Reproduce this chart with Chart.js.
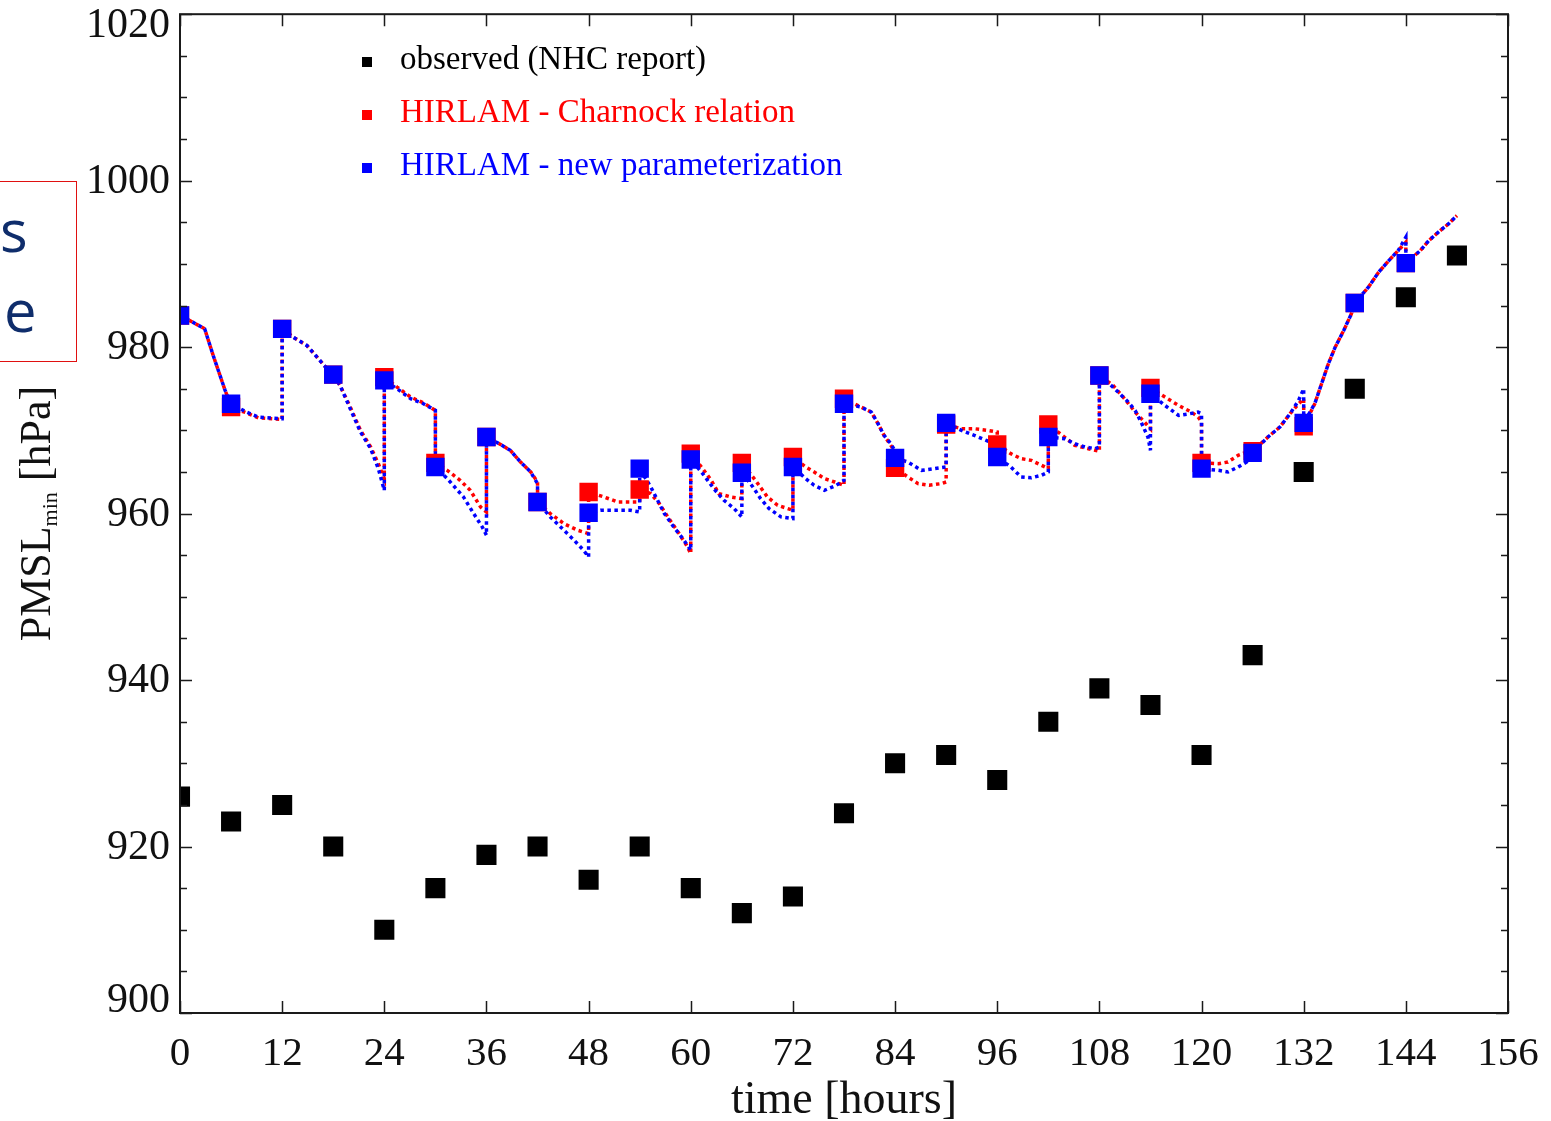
<!DOCTYPE html>
<html lang="en">
<head>
<meta charset="UTF-8">
<title>PMSL min - observed vs HIRLAM</title>
<script src="https://cdn.jsdelivr.net/npm/chart.js"></script>
<style>
  body { margin: 0; background: #fff; }
  #wrap { position: relative; width: 1551px; height: 1121px; overflow: hidden; }
  #note { position: absolute; left: -40px; top: 181px; width: 115px; height: 179px;
          border: 1px solid #e01010; font-family: 'Open Sans', sans-serif; font-size: 58px;
          color: #0f2d6b; line-height: 1; }
  #note span { position: absolute; }
</style>
</head>
<body>
<div id="wrap">
  <canvas id="pmslChart" width="1551" height="1121"></canvas>
  <div id="note"><span style="left:39px; top:19px;">s</span><span style="left:43px; top:99px;">e</span></div>
</div>

<script>
// time axis and tick labels
const hours = [0, 6, 12, 18, 24, 30, 36, 42, 48, 54, 60, 66, 72, 78, 84, 90, 96, 102, 108, 114, 120, 126, 132, 138, 144, 150];
const xTicks = [0, 12, 24, 36, 48, 60, 72, 84, 96, 108, 120, 132, 144, 156];
const yTicks = [900, 920, 940, 960, 980, 1000, 1020];
const yMinorStep = 5;

// observed minimum pressure (NHC report)
const observed = [926, 923, 925, 920, 910, 915, 919, 920, 916, 920, 915, 912, 914, 924, 930, 931, 928, 935, 939, 937, 931, 943, 965, 975, 986, 991];

// model analysis values (squares), 0..144 h
const charnockAnalysis = [983.8, 972.8, 982.2, 976.7, 976.4, 966.1, 969.2, 961.4, 962.6, 962.9, 967.2, 966.1, 966.8, 973.8, 965.5, 970.7, 968.3, 970.7, 976.6, 975.1, 966.1, 967.5, 970.5, 985.3, 990.1];
const newParamAnalysis = [983.8, 973.2, 982.2, 976.7, 976.0, 965.6, 969.2, 961.4, 960.1, 965.4, 966.5, 964.9, 965.6, 973.2, 966.7, 970.9, 966.8, 969.2, 976.6, 974.4, 965.4, 967.3, 970.9, 985.3, 990.1];

// 6-hour forecast tracks, [hour, hPa], each starting from its analysis
const charnockForecast = [
  [[0, 983.8], [1.5, 983.0], [2.9, 982.2], [3.9, 979.0], [4.7, 976.6], [5.3, 974.8], [6, 973.0]],
  [[6, 972.8], [7.8, 972.1], [9.2, 971.5], [12, 971.3]],
  [[12, 982.2], [13.3, 981.2], [14.9, 980.2], [16.1, 978.8], [17.1, 977.6], [18, 976.7]],
  [[18, 976.7], [18.8, 975.4], [20, 972.8], [21.2, 970.0], [22.4, 968.0], [23.3, 966.0], [24, 964.2]],
  [[24, 976.4], [25.5, 975.2], [27.1, 974.0], [28.6, 973.3], [30, 972.4]],
  [[30, 966.1], [31.4, 965.2], [32.9, 964.0], [34.1, 962.8], [35.3, 960.8], [36, 960.2]],
  [[36, 969.2], [37.5, 968.4], [38.8, 967.6], [40, 966.2], [41.2, 965.0], [42, 963.8]],
  [[42, 961.4], [43.5, 960.0], [45.1, 958.8], [46.7, 958.0], [48, 957.6]],
  [[48, 962.6], [49.8, 962.0], [51.4, 961.4], [52.9, 961.4], [54, 961.4]],
  [[54, 962.9], [55.3, 962.4], [56.3, 961.2], [57.3, 959.6], [58.5, 957.8], [59.5, 956.2], [60, 955.2]],
  [[60, 967.2], [61.4, 965.4], [62.4, 964.0], [63.3, 962.4], [64.7, 962.0], [66, 961.8]],
  [[66, 966.1], [67.6, 964.0], [69, 962.0], [70.2, 961.0], [72, 960.4]],
  [[72, 966.8], [73.5, 965.6], [74.5, 965.0], [75.7, 964.2], [76.9, 963.8], [78, 963.4]],
  [[78, 973.8], [80, 972.8], [81.2, 972.2], [82, 970.8], [82.7, 969.4], [83.5, 968.2], [84, 967.4]],
  [[84, 965.5], [85.5, 964.4], [86.7, 963.6], [88, 963.4], [89.4, 963.6], [90, 963.8]],
  [[90, 970.7], [91.8, 970.2], [93.3, 970.2], [94.9, 970.0], [96, 969.8]],
  [[96, 968.3], [97.6, 967.2], [98.8, 966.6], [100, 966.4], [101.2, 965.8], [102, 965.4]],
  [[102, 970.7], [103.9, 969.2], [105.1, 968.2], [106.7, 967.8], [108, 967.5]],
  [[108, 976.6], [109.6, 975.4], [110.8, 974.0], [112.2, 972.2], [113.3, 971.0], [114, 970.2]],
  [[114, 975.1], [115.7, 974.0], [117.3, 973.0], [118.8, 972.2], [119.6, 971.6], [120, 971.0]],
  [[120, 966.1], [122, 966.0], [123.1, 966.2], [124.3, 967.0], [125.3, 967.4], [126, 967.5]],
  [[126, 967.5], [127.8, 969.2], [129.2, 970.4], [130.4, 972.0], [131.4, 973.2], [132, 973.8]],
  [[132, 970.5], [133.3, 973.2], [134.1, 975.6], [134.9, 978.0], [135.7, 980.0], [136.7, 982.0], [137.6, 984.0], [138, 985.3]],
  [[138, 985.3], [139.6, 987.2], [140.8, 989.0], [142, 990.4], [143.1, 991.6], [144, 992.6]],
  [[144, 990.1], [145.7, 991.6], [146.7, 992.8], [147.8, 993.8], [149, 994.8], [150, 995.8]]
];
const newParamForecast = [
  [[0, 983.8], [1.5, 983.0], [2.9, 982.2], [3.9, 979.0], [4.7, 976.6], [5.3, 974.8], [6, 973.2]],
  [[6, 973.2], [7.8, 972.2], [9.2, 971.6], [12, 971.4]],
  [[12, 982.2], [13.3, 981.2], [14.9, 980.2], [16.1, 978.8], [17.1, 977.6], [18, 976.7]],
  [[18, 976.7], [18.8, 975.4], [20, 972.6], [21.2, 969.8], [22.4, 967.8], [23.3, 965.4], [24, 962.8]],
  [[24, 976.0], [25.5, 975.0], [27.1, 973.8], [28.6, 973.2], [30, 972.4]],
  [[30, 965.6], [31.4, 964.2], [33.3, 962.0], [34.5, 960.0], [35.5, 958.4], [36, 957.4]],
  [[36, 969.2], [37.5, 968.4], [38.8, 967.6], [40, 966.2], [41.2, 965.0], [42, 963.6]],
  [[42, 961.4], [43.5, 959.6], [45.1, 958.0], [46.3, 956.8], [47.4, 955.6], [48, 954.8]],
  [[48, 960.1], [49.4, 960.4], [51.4, 960.4], [52.9, 960.4], [54, 960.2]],
  [[54, 965.4], [55.3, 963.2], [56.1, 961.6], [56.9, 960.0], [58, 958.4], [59.2, 956.8], [60, 955.6]],
  [[60, 966.5], [61.4, 964.8], [62.7, 963.0], [63.9, 961.6], [65.1, 960.6], [66, 959.6]],
  [[66, 964.9], [67.3, 963.2], [68.2, 961.8], [69.2, 960.6], [70.6, 959.6], [72, 959.4]],
  [[72, 965.6], [73.5, 964.2], [74.5, 963.4], [75.7, 962.8], [77.1, 963.4], [78, 964.0]],
  [[78, 973.2], [80, 972.8], [81.2, 972.2], [82, 970.8], [82.7, 969.4], [83.5, 968.4], [84, 967.5]],
  [[84, 966.7], [85.5, 966.2], [87.1, 965.2], [88.6, 965.4], [90, 965.6]],
  [[90, 970.9], [91.8, 970.0], [93.3, 969.4], [94.7, 968.8], [96, 968.2]],
  [[96, 966.8], [97.6, 965.6], [98.8, 964.4], [100, 964.3], [101.2, 964.6], [102, 965.0]],
  [[102, 969.2], [103.9, 969.0], [105.1, 968.4], [106.3, 968.0], [107.5, 967.8], [108, 968.0]],
  [[108, 976.6], [109.6, 975.2], [110.6, 974.2], [111.4, 973.4], [112.2, 972.4], [112.9, 971.0], [113.7, 969.2], [114, 967.6]],
  [[114, 974.4], [115.7, 973.0], [117.3, 971.8], [118.6, 972.0], [119.6, 972.2], [120, 972.0]],
  [[120, 965.4], [122, 965.2], [123.1, 965.0], [124.3, 965.6], [125.3, 966.2], [126, 967.3]],
  [[126, 967.3], [127.8, 969.2], [129.2, 970.4], [130.4, 972.0], [131.4, 973.6], [132, 975.0]],
  [[132, 970.9], [133.3, 973.2], [134.1, 975.6], [134.9, 978.0], [135.7, 980.0], [136.7, 982.0], [137.6, 984.0], [138, 985.3]],
  [[138, 985.3], [139.6, 987.2], [140.8, 989.0], [142, 990.4], [143.1, 991.6], [144, 993.2]],
  [[144, 990.1], [145.7, 991.6], [146.7, 992.8], [147.8, 993.8], [149, 994.8], [150, 995.8]]
];

const legendItems = ['observed (NHC report)', 'HIRLAM - Charnock relation', 'HIRLAM - new parameterization'];
const legendColors = ['#000000', '#ff0000', '#0000ff'];

const serif = "'Liberation Serif', 'DejaVu Serif', serif";

function pairUp(xs, ys) {
    return ys.map((y, i) => ({ x: xs[i], y: y }));
}
function joinTracks(tracks) {
    return tracks.flat().map(p => ({ x: p[0], y: p[1] }));
}

// frame, inward ticks, y labels, titles and legend
const decor = {
    id: 'decor',
    afterDatasetsDraw(chart) {
        const { ctx, chartArea: a, scales: { x, y } } = chart;
        ctx.save();
        ctx.strokeStyle = '#1a1a1a';
        ctx.lineWidth = 2;
        ctx.strokeRect(a.left, a.top, a.right - a.left, a.bottom - a.top);

        ctx.lineWidth = 1.5;
        ctx.beginPath();
        xTicks.forEach(v => {
            const px = Math.round(x.getPixelForValue(v)) + 0.5;
            ctx.moveTo(px, a.bottom); ctx.lineTo(px, a.bottom - 12);
            ctx.moveTo(px, a.top); ctx.lineTo(px, a.top + 12);
        });
        for (let v = yTicks[0]; v <= yTicks[yTicks.length - 1]; v += yMinorStep) {
            const py = Math.round(y.getPixelForValue(v)) + 0.5;
            const len = yTicks.includes(v) ? 12 : 7;
            ctx.moveTo(a.left, py); ctx.lineTo(a.left + len, py);
            ctx.moveTo(a.right, py); ctx.lineTo(a.right - len, py);
        }
        ctx.stroke();
        ctx.restore();
    },
    afterDraw(chart) {
        const { ctx, chartArea: a, scales: { y } } = chart;
        ctx.save();
        ctx.fillStyle = '#111';

        // y tick labels, end labels kept inside the frame
        ctx.font = '42px ' + serif;
        ctx.textAlign = 'right';
        ctx.textBaseline = 'middle';
        yTicks.forEach((v, i) => {
            let py = y.getPixelForValue(v);
            if (i === yTicks.length - 1) py += 11;
            if (i === 0) py -= 13;
            ctx.fillText(String(v), a.left - 10, py + 1);
        });

        // x title
        ctx.font = '46px ' + serif;
        ctx.textAlign = 'center';
        ctx.textBaseline = 'alphabetic';
        ctx.fillText('time [hours]', (a.left + a.right) / 2, 1113);

        // y title with subscript
        ctx.translate(50, (a.top + a.bottom) / 2);
        ctx.rotate(-Math.PI / 2);
        ctx.textAlign = 'left';
        const big = '44px ' + serif, small = '22px ' + serif;
        ctx.font = big; const w1 = ctx.measureText('PMSL').width;
        ctx.font = small; const w2 = ctx.measureText('min').width;
        ctx.font = big; const w3 = ctx.measureText(' [hPa]').width;
        let sx = -(w1 + w2 + w3) / 2;
        ctx.font = big; ctx.fillText('PMSL', sx, 0); sx += w1;
        ctx.font = small; ctx.fillText('min', sx, 7); sx += w2;
        ctx.font = big; ctx.fillText(' [hPa]', sx, 0);
        ctx.restore();

        // legend inside the plot
        ctx.save();
        ctx.font = '33px ' + serif;
        ctx.textBaseline = 'middle';
        legendItems.forEach((txt, i) => {
            const cy = 62 + i * 53;
            ctx.fillStyle = legendColors[i];
            ctx.fillRect(362, cy - 5, 10, 10);
            ctx.fillText(txt, 400, cy - 2);
        });
        ctx.restore();
    }
};

const chartCtx = document.getElementById('pmslChart').getContext('2d');
const pmslChart = new Chart(chartCtx, {
    type: 'scatter',
    data: {
        datasets: [
            {
                label: 'observed (NHC report)',
                data: pairUp(hours, observed),
                pointStyle: 'rect', pointRadius: 14.2, pointHoverRadius: 14.2,
                backgroundColor: '#000', borderWidth: 0, showLine: false, order: 0
            },
            {
                label: 'HIRLAM - new parameterization',
                data: pairUp(hours, newParamAnalysis),
                pointStyle: 'rect', pointRadius: 13, pointHoverRadius: 13,
                backgroundColor: '#0000ff', borderWidth: 0, showLine: false, order: 1
            },
            {
                label: 'HIRLAM - Charnock relation',
                data: pairUp(hours, charnockAnalysis),
                pointStyle: 'rect', pointRadius: 13, pointHoverRadius: 13,
                backgroundColor: '#ff0000', borderWidth: 0, showLine: false, order: 2
            },
            {
                label: 'new parameterization forecast',
                data: joinTracks(newParamForecast),
                showLine: true, pointRadius: 0, borderColor: '#0000ff', borderWidth: 3.5,
                borderDash: [3.5, 3.5], tension: 0, order: 3
            },
            {
                label: 'Charnock forecast',
                data: joinTracks(charnockForecast),
                showLine: true, pointRadius: 0, borderColor: '#ff0000', borderWidth: 3.5,
                borderDash: [3.5, 3.5], borderDashOffset: 3.5, tension: 0, order: 4
            }
        ]
    },
    options: {
        responsive: false,
        animation: false,
        devicePixelRatio: 1,
        layout: { padding: { top: 13, right: 43, left: 0, bottom: 0 } },
        plugins: { legend: { display: false }, tooltip: { enabled: false } },
        scales: {
            x: {
                type: 'linear', min: 0, max: 156,
                afterBuildTicks: s => { s.ticks = xTicks.map(v => ({ value: v })); },
                afterFit: s => { s.height = 108; s.paddingLeft = 0; s.paddingRight = 0; },
                ticks: { font: { family: serif, size: 41 }, color: '#111', padding: 9, maxRotation: 0, autoSkip: false },
                grid: { display: false },
                border: { display: false }
            },
            y: {
                type: 'linear', min: 900, max: 1020,
                afterBuildTicks: s => { s.ticks = yTicks.map(v => ({ value: v })); },
                afterFit: s => { s.width = 180; },
                ticks: { display: false },
                grid: { display: false },
                border: { display: false }
            }
        }
    },
    plugins: [decor]
});
</script>
</body>
</html>
